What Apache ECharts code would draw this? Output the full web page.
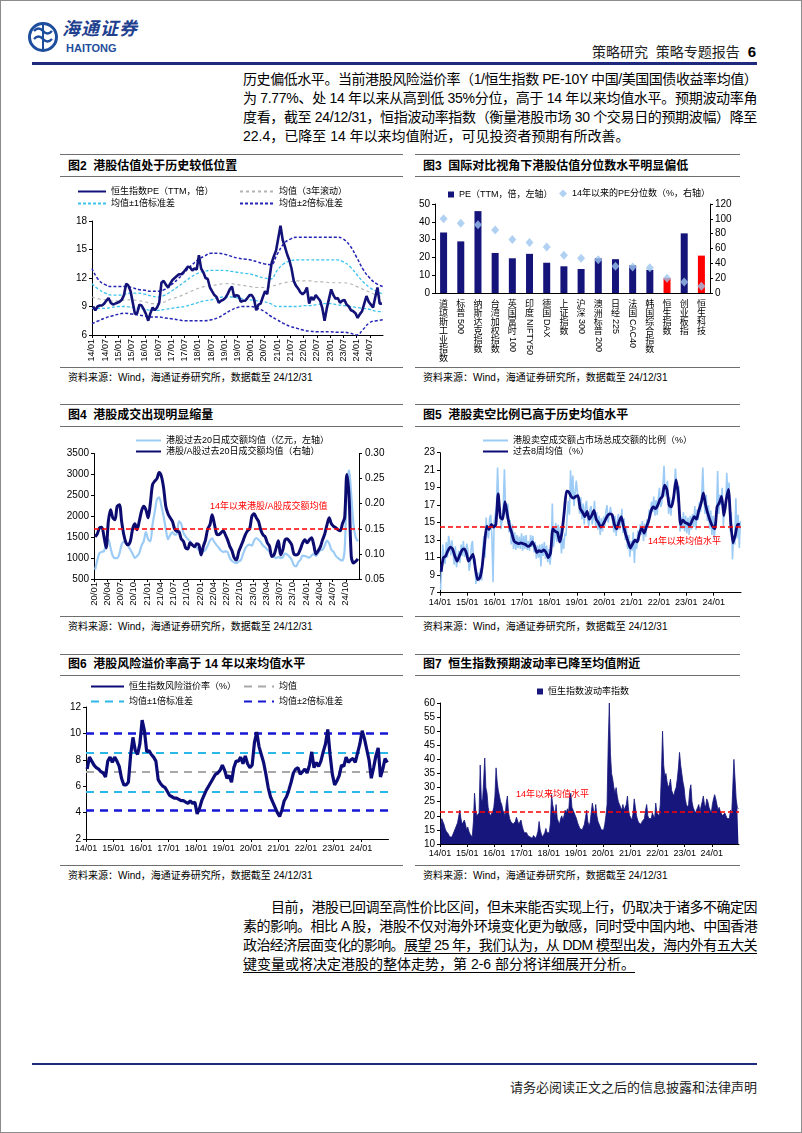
<!DOCTYPE html>
<html><head><meta charset="utf-8">
<script src="https://cdn.jsdelivr.net/npm/echarts@6/dist/echarts.min.js"></script>
<style>
html,body{margin:0;padding:0;background:#fff;}
#page{position:relative;width:802px;height:1133px;overflow:hidden;font-family:'Liberation Sans','Noto Sans CJK SC',sans-serif;color:#000;background:#fff;}
#frame{position:absolute;left:0;top:0;width:800px;height:1131px;border:1px solid #8c8c8c;}
.rule{position:absolute;height:0;border-top:1px solid #6e6e6e;}
.title{position:absolute;font-size:12px;font-weight:bold;line-height:14px;white-space:nowrap;}
.src{position:absolute;font-size:10px;line-height:12px;white-space:nowrap;}
.para{position:absolute;left:243px;width:514px;font-size:14px;}
.para .ln{height:19px;line-height:19px;white-space:nowrap;text-align:justify;text-align-last:justify;}
.para .ln.last{text-align:left;text-align-last:left;}
.chart{position:absolute;}
u{text-underline-offset:3px;}
</style>
</head><body>
<div id="page">
<div id="frame"></div>
<svg style="position:absolute;left:27px;top:18px" width="34" height="40" viewBox="0 0 34 40">
<circle cx="16" cy="19" r="13.5" fill="none" stroke="#1d4e9e" stroke-width="3"/>
<path d="M7 13 q4.5 -5 9 0 q4.5 5 9 0" fill="none" stroke="#1d4e9e" stroke-width="2.4"/>
<path d="M7 21 q4.5 -5 9 0 q4.5 5 9 0" fill="none" stroke="#1d4e9e" stroke-width="2.4"/>
<path d="M16 7 v25" fill="none" stroke="#1d4e9e" stroke-width="2"/>
</svg>
<div style="position:absolute;left:62px;top:18px;font-size:18px;line-height:22px;font-weight:bold;font-style:italic;color:#1f3f8f;letter-spacing:1px;white-space:nowrap;">海通证券</div>
<div style="position:absolute;left:66px;top:42px;font-size:11px;line-height:12px;font-weight:bold;color:#1f4e9c;font-family:'Liberation Sans',sans-serif;">HAITONG</div>
<div style="position:absolute;right:46px;top:41px;font-size:14px;color:#222;white-space:nowrap;">策略研究&nbsp;&nbsp;策略专题报告&nbsp;&nbsp;<b style="font-size:15px;color:#000">6</b></div>
<div style="position:absolute;left:32px;top:62px;width:725px;height:3px;background:#1f2a7f;"></div>

<div class="para" style="top:70px;">
<div class="ln">历史偏低水平。当前港股风险溢价率（1/恒生指数 PE-10Y 中国/美国国债收益率均值）</div>
<div class="ln">为 7.77%、处 14 年以来从高到低 35%分位，高于 14 年以来均值水平。预期波动率角</div>
<div class="ln">度看，截至 24/12/31，恒指波动率指数（衡量港股市场 30 个交易日的预期波幅）降至</div>
<div class="ln last">22.4，已降至 14 年以来均值附近，可见投资者预期有所改善。</div>
</div>

<div class="rule" style="left:60px;top:154px;width:343px;"></div>
<div class="rule" style="left:60px;top:176px;width:343px;"></div>
<div class="rule" style="left:60px;top:367px;width:343px;"></div>
<div class="title" style="left:68px;top:159px;">图2&nbsp;&nbsp;港股估值处于历史较低位置</div>
<div class="src" style="left:68px;top:372px;">资料来源：Wind，海通证券研究所，数据截至 24/12/31</div>

<div class="rule" style="left:415px;top:154px;width:325px;"></div>
<div class="rule" style="left:415px;top:176px;width:325px;"></div>
<div class="rule" style="left:415px;top:367px;width:325px;"></div>
<div class="title" style="left:423px;top:159px;">图3&nbsp;&nbsp;国际对比视角下港股估值分位数水平明显偏低</div>
<div class="src" style="left:423px;top:372px;">资料来源：Wind，海通证券研究所，数据截至 24/12/31</div>

<div class="rule" style="left:60px;top:404px;width:343px;"></div>
<div class="rule" style="left:60px;top:426px;width:343px;"></div>
<div class="rule" style="left:60px;top:616px;width:343px;"></div>
<div class="title" style="left:68px;top:408px;">图4&nbsp;&nbsp;港股成交出现明显缩量</div>
<div class="src" style="left:68px;top:621px;">资料来源：Wind，海通证券研究所，数据截至 24/12/31</div>

<div class="rule" style="left:415px;top:404px;width:325px;"></div>
<div class="rule" style="left:415px;top:426px;width:325px;"></div>
<div class="rule" style="left:415px;top:616px;width:325px;"></div>
<div class="title" style="left:423px;top:408px;">图5&nbsp;&nbsp;港股卖空比例已高于历史均值水平</div>
<div class="src" style="left:423px;top:621px;">资料来源：Wind，海通证券研究所，数据截至 24/12/31</div>

<div class="rule" style="left:60px;top:654px;width:343px;"></div>
<div class="rule" style="left:60px;top:675px;width:343px;"></div>
<div class="rule" style="left:60px;top:865px;width:343px;"></div>
<div class="title" style="left:68px;top:657px;">图6&nbsp;&nbsp;港股风险溢价率高于 14 年以来均值水平</div>
<div class="src" style="left:68px;top:870px;">资料来源：Wind，海通证券研究所，数据截至 24/12/31</div>

<div class="rule" style="left:415px;top:654px;width:325px;"></div>
<div class="rule" style="left:415px;top:675px;width:325px;"></div>
<div class="rule" style="left:415px;top:865px;width:325px;"></div>
<div class="title" style="left:423px;top:657px;">图7&nbsp;&nbsp;恒生指数预期波动率已降至均值附近</div>
<div class="src" style="left:423px;top:870px;">资料来源：Wind，海通证券研究所，数据截至 24/12/31</div>

<div id="c2" class="chart" style="left:60px;top:180px;width:343px;height:188px;"></div>
<div id="c3" class="chart" style="left:413px;top:180px;width:330px;height:188px;"></div>
<div id="c4" class="chart" style="left:60px;top:430px;width:343px;height:186px;"></div>
<div id="c5" class="chart" style="left:413px;top:430px;width:330px;height:186px;"></div>
<div id="c6" class="chart" style="left:60px;top:678px;width:343px;height:188px;"></div>
<div id="c7" class="chart" style="left:413px;top:678px;width:330px;height:188px;"></div>

<div class="para" style="top:898px;">
<div class="ln"><span style="display:inline-block;width:28px;"></span>目前，港股已回调至高性价比区间，但未来能否实现上行，仍取决于诸多不确定因</div>
<div class="ln">素的影响。相比 A 股，港股不仅对海外环境变化更为敏感，同时受中国内地、中国香港</div>
<div class="ln">政治经济层面变化的影响。<u>展望 25 年，我们认为，从 DDM 模型出发，海内外有五大关</u></div>
<div class="ln last"><u>键变量或将决定港股的整体走势，第 2-6 部分将详细展开分析。</u></div>
</div>

<div style="position:absolute;left:32px;top:1063px;width:725px;height:2px;background:#1f2a7f;"></div>
<div style="position:absolute;right:45px;top:1077px;font-size:13px;color:#222;white-space:nowrap;">请务必阅读正文之后的信息披露和法律声明</div>
</div>

<script>
// ---------- Chart 2: HSI PE (monthly, from 2014-01) ----------
const pe2 = [
 9.0, 8.6, 9.0, 9.1, 9.1, 9.3, 9.6, 9.9, 9.4, 9.2, 9.3, 9.4,
 9.5, 9.7, 10.2, 11.4, 11.2, 10.6, 9.4, 8.2, 8.3, 9.2, 9.1, 8.7,
 8.2, 7.5, 8.3, 8.9, 8.6, 8.9, 9.4, 11.5, 11.7, 11.3, 11.0, 11.4,
 11.8, 12.0, 12.2, 12.4, 12.4, 12.6, 12.9, 13.2, 13.1, 12.8, 13.0, 12.9,
 14.4, 13.0, 12.6, 12.0, 11.9, 11.0, 10.6, 10.2, 10.0, 9.4, 9.6, 9.7,
 9.9, 10.3, 10.8, 11.1, 10.0, 10.2, 10.1, 9.5, 9.6, 9.6, 9.9, 10.2,
 10.2, 9.8, 8.6, 9.2, 9.3, 10.0, 10.6, 10.3, 12.0, 13.6, 14.3, 14.9,
 16.2, 17.5, 16.0, 15.3, 14.5, 13.9, 13.0, 11.7, 11.2, 10.9, 10.5, 10.3,
 10.5, 11.0, 9.3, 10.0, 9.7, 10.2, 9.9, 9.6, 8.8, 7.5, 8.8, 9.8,
 10.8, 10.2, 9.8, 9.9, 9.4, 9.6, 9.7, 9.2, 9.0, 8.6, 8.5, 8.3,
 7.8, 8.2, 8.5, 9.3, 10.1, 9.5, 9.2, 8.9, 10.0, 11.0, 9.3, 9.3
];
// bands, quarterly from 2014-01 to 2025-01
const pe2Mean = [10.0,9.8,9.7,9.6,9.6,9.7,9.7,9.6,9.5,9.3,9.3,9.5,9.8,10.0,10.3,10.6,10.9,11.1,11.2,11.3,11.4,11.4,11.3,11.2,11.1,11.0,11.0,11.1,11.3,11.5,11.6,11.7,11.7,11.7,11.6,11.6,11.5,11.5,11.5,11.4,11.1,10.8,10.5,10.2,10.0];
const pe2Up1 = [11.4,10.8,10.4,10.2,10.2,10.3,10.4,10.4,10.3,10.1,10.0,10.2,10.6,11.1,11.6,12.1,12.5,12.7,12.8,12.8,12.8,12.7,12.6,12.5,12.4,12.2,12.0,11.9,12.8,13.5,13.8,13.9,13.9,13.9,13.9,13.9,13.9,13.9,13.7,13.2,12.4,11.6,11.0,10.6,10.3];
const pe2Lo1 = [8.8,8.8,8.8,8.9,9.0,9.0,8.9,8.8,8.7,8.6,8.6,8.7,8.8,8.9,9.0,9.2,9.4,9.6,9.7,9.9,10.0,10.0,9.9,9.8,9.7,9.6,9.5,9.3,9.0,9.0,9.0,9.0,9.1,9.1,9.2,9.3,9.3,9.2,9.1,9.0,8.9,8.8,8.7,8.5,8.45];
const pe2Up2 = [13.0,11.8,11.3,11.1,11.1,11.1,11.0,10.8,10.7,10.6,10.6,10.8,11.3,11.9,12.6,13.3,13.9,14.3,14.6,14.6,14.5,14.3,14.1,14.0,13.9,13.7,13.5,13.4,14.5,15.6,16.1,16.3,16.3,16.3,16.3,16.3,16.3,16.3,16.1,15.4,14.2,12.9,12.0,11.4,11.1];
const pe2Lo2 = [7.2,7.5,7.8,8.0,8.2,8.3,8.2,8.1,8.0,7.9,7.9,7.8,7.7,7.6,7.5,7.5,7.5,7.5,7.6,7.8,8.2,8.6,8.9,9.0,9.0,8.8,8.5,8.0,7.6,7.2,6.9,6.7,6.5,6.4,6.35,6.35,6.35,6.3,6.3,6.2,6.0,6.6,7.3,7.5,7.6];

// ---------- Chart 3 ----------
const cats3 = ['道琼斯工业指数','标普500','纳斯达克指数','台湾加权指数','英国富时100','印度NIFTY50','德国DAX','上证指数','沪深300','澳洲标普200','日经225','法国CAC40','韩国综合指数','恒生指数','创业板指','恒生科技'];
const pe3 = [34, 29, 46, 22.5, 19.5, 22, 17, 15, 13.5, 19.5, 19, 15.5, 13, 8.5, 33.5, 21];
const pct3 = [100, 94, 92, 85, 72, 68, 62, 51, 47, 45, 36, 35, 34, 20, 15, 9];
const red3 = ['恒生指数','恒生科技'];

// ---------- Chart 4 (semi-monthly from 2020-01) ----------
const hkTurnover = [
 720, 950, 1120, 1150, 1160, 1380, 1450, 1240, 1050, 1000, 1000, 1100,
 1320, 1390, 1350, 1280, 1200, 1100, 1000, 1050, 1120, 1300, 1400, 1620,
 1450, 1400, 1800, 2100, 2400, 2450, 2250, 2000, 1700, 1450, 1550, 1620,
 1560, 1580, 1880, 1820, 1600, 1520, 1450, 1400, 1320, 1280, 1250, 1200,
 1180, 1160, 1200, 1300, 1420, 1470, 1380, 1310, 1250, 1180, 1150, 1160,
 1140, 1000, 930, 900, 880, 920, 950, 1100, 1230, 1300, 1320, 1300,
 1420, 1480, 1440, 1380, 1300, 1260, 1200, 1150, 1050, 1030, 1000, 1030,
 1000, 1020, 1110, 1080, 1030, 960, 830, 800, 900, 960, 1060, 1050,
 1030, 1010, 1060, 1100, 1050, 1120, 1190, 1200, 1300, 1420, 1350, 1200,
 1150, 1050, 1000, 960, 940, 1200, 2700, 3100, 2500, 1800, 1500, 1400
];
const hkARatio = [
 0.134, 0.140, 0.152, 0.153, 0.135, 0.112, 0.165, 0.188, 0.172, 0.168, 0.195, 0.198,
 0.165, 0.138, 0.122, 0.118, 0.126, 0.150, 0.160, 0.148, 0.165, 0.185, 0.195, 0.188,
 0.172, 0.200, 0.238, 0.245, 0.250, 0.262, 0.255, 0.232, 0.195, 0.180, 0.172, 0.165,
 0.150, 0.145, 0.144, 0.130, 0.125, 0.112, 0.110, 0.122, 0.118, 0.114, 0.120, 0.118,
 0.098, 0.115, 0.128, 0.150, 0.158, 0.178, 0.160, 0.140, 0.138, 0.142, 0.146, 0.138,
 0.128, 0.115, 0.106, 0.092, 0.088, 0.104, 0.115, 0.126, 0.138, 0.146, 0.150, 0.175,
 0.180, 0.172, 0.165, 0.148, 0.138, 0.134, 0.122, 0.115, 0.095, 0.098, 0.112, 0.126,
 0.098, 0.108, 0.128, 0.130, 0.125, 0.118, 0.100, 0.098, 0.100, 0.110, 0.122, 0.128,
 0.122, 0.128, 0.132, 0.118, 0.100, 0.106, 0.114, 0.128, 0.140, 0.158, 0.172, 0.160,
 0.155, 0.152, 0.148, 0.146, 0.160, 0.172, 0.258, 0.215, 0.095, 0.082, 0.085, 0.090
];
const ratioMean4 = 1700;

// ---------- Chart 5 ----------
const shortRatio = [ // semi-monthly from 2014-01
 7.3,10.2,12.5,11.0,10.3,12.8,11.0,13.5,12.8,11.3,13.0,11.4,10.2,12.3,9.9,11.0,11.8,10.4,12.5,11.2,12.9,11.1,11.0,12.6,
 11.8,9.5,10.2,12.4,12.9,10.3,10.8,8.0,7.9,9.3,8.3,9.8,8.4,11.9,13.5,11.0,15.6,13.8,13.2,15.5,15.9,13.5,8.2,15.1,
 14.9,16.8,21.3,17.5,16.0,14.3,15.3,17.0,21.1,16.5,15.4,17.2,13.9,15.3,12.5,14.8,12.0,13.9,11.9,13.6,12.1,13.4,12.0,13.8,
 11.8,13.5,12.0,13.6,11.9,12.9,11.8,13.6,12.2,13.5,11.6,12.8,10.9,12.4,11.0,12.5,10.0,12.6,11.2,12.8,10.9,12.4,10.5,12.0,
 10.2,11.6,17.2,12.2,13.2,15.0,12.8,14.8,13.0,14.5,11.5,13.2,12.0,13.8,13.5,15.8,17.5,15.9,21.0,18.0,20.4,16.9,17.0,19.8,
 19.6,17.2,16.0,17.9,15.4,17.2,14.8,16.8,17.5,15.4,14.6,16.5,16.9,14.8,15.5,17.5,14.6,16.2,14.2,15.8,13.6,15.5,14.0,15.7,
 14.6,16.3,17.0,15.0,15.2,16.8,16.9,15.0,13.9,15.8,13.5,15.2,16.0,14.2,14.8,16.6,13.8,15.5,13.0,14.4,12.0,13.6,11.1,12.9,
 11.8,13.9,10.4,13.2,12.0,14.1,12.9,14.8,13.6,15.2,12.9,14.9,13.4,15.4,14.4,16.5,15.6,17.4,16.2,18.0,15.8,17.6,15.9,17.8,
 19.0,16.8,17.2,19.2,21.5,18.0,18.0,19.8,16.0,17.9,15.8,17.6,17.0,18.9,21.2,19.0,17.3,19.2,14.0,15.6,14.3,16.2,14.0,15.8,
 13.8,15.6,13.6,15.8,14.2,16.0,14.5,16.9,14.2,16.5,15.3,17.4,16.2,18.0,21.3,17.6,16.0,18.2,15.2,17.0,14.3,16.4,13.6,15.8,
 13.1,15.0,15.8,20.9,16.0,18.2,17.0,19.0,14.6,17.0,16.5,20.7,17.8,19.6,14.0,16.2,10.8,13.5,12.5,17.8,13.2,15.9,12.1,15.2
];
const shortMA8 = [ // monthly from 2014-01
 9.4, 11.0, 11.2, 11.8, 12.2, 12.0, 11.2, 10.6, 11.2, 11.8, 12.0, 11.6,
 10.6, 11.0, 11.4, 9.8, 8.5, 8.7, 10.0, 12.5, 14.6, 14.2, 14.8, 14.5,
 14.8, 18.3, 15.6, 15.4, 17.4, 16.0, 14.6, 13.8, 12.9, 12.7, 12.6, 12.7,
 12.6, 12.5, 12.3, 12.4, 12.8, 12.3, 11.6, 11.8, 11.7, 11.9, 11.6, 11.0,
 11.6, 14.3, 14.0, 13.9, 12.8, 13.9, 16.3, 18.6, 18.5, 18.0, 17.8, 18.0,
 18.1, 16.6, 16.2, 15.7, 16.3, 15.4, 15.8, 16.4, 15.4, 15.0, 14.5, 14.8,
 15.3, 15.8, 16.0, 15.9, 14.8, 14.3, 15.1, 15.7, 14.6, 13.6, 12.8, 12.1,
 12.6, 13.0, 12.8, 13.8, 14.4, 13.8, 14.5, 15.2, 16.3, 16.8, 16.6, 17.0,
 17.7, 18.0, 19.3, 18.8, 17.0, 16.8, 18.0, 19.9, 18.2, 14.8, 15.3, 15.0,
 14.9, 14.7, 15.2, 15.7, 15.4, 16.4, 17.2, 18.4, 17.0, 16.0, 15.2, 14.6,
 14.3, 16.8, 17.3, 18.0, 15.8, 17.6, 18.8, 15.0, 12.7, 13.6, 14.8, 14.8
];
const shortMean = 14.5;

// ---------- Chart 6 (monthly from 2014-01) ----------
const riskPrem = [
 7.3, 8.2, 7.9, 7.6, 7.4, 7.3, 7.1, 7.0, 6.7, 7.9, 8.2, 7.8,
 8.2, 7.9, 7.5, 6.6, 6.1, 6.1, 6.3, 8.4, 9.7, 8.7, 8.4, 9.2,
 11.0, 10.2, 8.6, 8.7, 8.4, 8.2, 7.9, 6.5, 6.2, 6.0, 5.9, 5.6,
 5.3, 5.2, 5.1, 5.1, 5.0, 4.9, 4.9, 4.8, 4.7, 4.9, 4.7, 4.8,
 3.9, 4.3, 4.9, 5.3, 5.7, 6.0, 6.3, 6.6, 6.9, 7.0, 7.2, 7.6,
 7.2, 6.6, 6.8, 6.3, 7.4, 7.9, 7.9, 8.2, 7.7, 8.3, 7.7, 7.4,
 7.6, 9.3, 10.1, 9.0, 8.4, 7.8, 6.9, 5.9, 5.2, 4.8, 4.4, 4.0,
 3.7, 4.2, 4.9, 5.2, 5.7, 6.3, 7.0, 7.3, 7.4, 6.9, 7.1, 7.3,
 7.0, 7.6, 8.6, 7.4, 7.8, 7.5, 7.9, 8.6, 9.2, 10.3, 8.4, 6.9,
 6.1, 6.4, 6.8, 7.6, 7.5, 8.2, 7.8, 8.0, 8.1, 7.8, 8.5, 9.2,
 10.2, 9.6, 8.8, 8.0, 6.6, 7.4, 8.3, 8.9, 6.7, 7.3, 8.1, 7.8
];
const rpMean = 7.07, rpUp1 = 8.53, rpLo1 = 5.61, rpUp2 = 9.99, rpLo2 = 4.15;

// ---------- Chart 7 (semi-monthly from 2014-01) ----------
const vhsi = [
 15.5,19.0,18.0,17.0,15.5,14.5,14.0,13.5,12.5,12.2,12.5,13.0,14.5,15.5,16.0,17.5,18.0,22.0,19.0,17.0,16.5,18.5,17.0,15.0,
 16.0,14.5,13.5,13.0,12.5,18.0,28.0,22.0,20.0,19.5,21.0,38.0,26.0,25.0,32.0,40.5,30.0,28.0,23.0,21.0,20.0,19.5,21.5,23.0,
 27.0,37.0,32.0,29.0,27.0,25.0,24.0,22.0,21.0,20.0,24.5,27.0,21.0,19.0,18.0,17.5,17.0,17.0,18.0,19.5,20.0,17.0,16.5,18.5,
 16.5,15.0,14.0,13.5,14.0,13.0,13.5,12.5,12.5,12.0,13.0,12.5,12.0,13.0,14.5,18.0,15.0,13.5,12.5,13.0,14.0,15.5,14.0,13.5,
 14.0,17.5,27.5,24.0,22.0,20.0,24.0,19.0,18.0,17.0,19.0,20.0,18.5,20.0,22.0,21.0,22.5,21.0,27.0,28.0,23.0,22.0,21.0,20.5,
 19.0,17.5,16.5,15.5,16.0,15.0,15.5,17.0,19.5,22.0,18.0,16.5,17.5,21.0,24.5,22.0,20.0,24.0,20.0,18.0,17.0,16.0,15.0,14.5,
 15.0,17.0,20.0,24.0,45.0,60.0,42.0,35.0,33.0,30.0,28.0,30.0,27.0,25.0,24.0,23.0,22.0,24.0,22.0,21.5,24.0,27.0,22.0,20.0,
 20.0,18.5,21.0,26.0,23.0,20.0,18.5,17.5,17.0,17.0,18.0,17.5,19.0,22.0,24.0,20.0,19.0,18.5,19.0,21.0,20.5,19.0,24.5,21.0,
 21.0,20.0,24.0,35.0,50.0,38.0,34.0,35.0,32.0,30.0,31.0,33.0,29.0,28.0,27.0,29.0,30.0,33.0,37.0,42.5,38.0,35.0,32.0,30.0,
 26.0,24.0,23.0,24.0,29.0,31.0,25.0,23.0,22.0,21.0,21.5,23.0,24.0,21.5,22.0,25.0,27.0,24.0,23.0,26.0,25.0,23.0,22.5,21.0,
 24.0,26.0,27.5,26.0,24.0,22.0,23.0,21.5,21.0,20.0,19.5,21.0,20.0,19.0,19.5,19.0,22.0,20.0,30.0,40.0,33.0,26.0,23.0,22.4
];
const vhsiMean = 21.3;

// ---------- helpers ----------
const FONT = "'Liberation Sans','Noto Sans CJK SC',sans-serif";
function ym(v){const mm=Math.round(v*12);return String(Math.floor(mm/12)).slice(2)+'/'+String(mm%12+1).padStart(2,'0');}
const monthly=(s,a)=>a.map((v,i)=>[s+(i+0.5)/12,v]);
const semi=(s,a)=>a.map((v,i)=>[s+(i+0.5)/24,v]);
const quarterly=(s,a)=>a.map((v,i)=>[s+i*0.25,v]);
const BLACK={color:'#000',width:1};
function timeAxis(min,max,interval,rotate,margin,fs){
  return {type:'value',min,max,interval,axisLine:{show:true,onZero:false,lineStyle:BLACK},
    axisTick:{show:true,length:3,lineStyle:BLACK},splitLine:{show:false},
    axisLabel:{color:'#000',fontSize:fs||9,fontFamily:FONT,rotate:rotate||0,margin:margin,showMaxLabel:false,
      formatter:v=>v>=max-1e-6?'':ym(v)}};
}
function valAxis(min,max,interval,extra){
  return Object.assign({type:'value',min,max,interval,axisLine:{show:true,lineStyle:BLACK},
    axisTick:{show:true,length:3,lineStyle:BLACK},splitLine:{show:false},
    axisLabel:{color:'#000',fontSize:10,fontFamily:FONT,margin:5,formatter:v=>String(v)}},extra||{});
}
function lg(name,left,top,w,h,hideSym,icon){
  const o={data:[name],left,top,itemWidth:w,itemHeight:h,itemGap:0,padding:0,selectedMode:false,
    textStyle:{fontSize:9,color:'#000',fontFamily:FONT}};
  if(hideSym)o.itemStyle={opacity:0};
  if(icon)o.icon=icon;
  return o;
}
const grid=(l,r,t,b)=>({left:l,right:r,top:t,bottom:b,containLabel:false,outerBoundsMode:'none'});
function mk(id,opt){const c=echarts.init(document.getElementById(id),null,{renderer:'canvas'});opt.animation=false;opt.textStyle={fontFamily:FONT};c.setOption(opt);}

// ---------- chart 2 ----------
const c2cyan={color:'#3CC3EE',width:1.3,type:[3,2]};
const c2blue={color:'#2424B4',width:1.5,type:[3,2]};
const c2gray={color:'#B4B4B4',width:1.2,type:[3,3]};
mk('c2',{
  grid:grid(32,20,41,33),
  legend:[lg('恒生指数PE（TTM，倍）',17,7,28,10,true),lg('均值（3年滚动）',179,7,34,10,true),
          lg('均值±1倍标准差',17,19,28,10,true),lg('均值±2倍标准差',179,19,34,10,true)],
  xAxis:timeAxis(2014,2025,0.5,90,4,9),
  yAxis:valAxis(6,18,3),
  series:[
    {name:'均值（3年滚动）',type:'line',data:quarterly(2014,pe2Mean),smooth:true,symbol:'none',lineStyle:c2gray,z:2},
    {name:'均值±1倍标准差',type:'line',data:quarterly(2014,pe2Up1),smooth:true,symbol:'none',lineStyle:c2cyan,z:2},
    {name:'均值±1倍标准差',type:'line',data:quarterly(2014,pe2Lo1),smooth:true,symbol:'none',lineStyle:c2cyan,z:2},
    {name:'均值±2倍标准差',type:'line',data:quarterly(2014,pe2Up2),smooth:true,symbol:'none',lineStyle:c2blue,z:2},
    {name:'均值±2倍标准差',type:'line',data:quarterly(2014,pe2Lo2),smooth:true,symbol:'none',lineStyle:c2blue,z:2},
    {name:'恒生指数PE（TTM，倍）',type:'line',data:monthly(2014,pe2),symbol:'none',lineStyle:{color:'#121278',width:2.6},z:5}
  ]
});

// ---------- chart 3 ----------
const cjk=v=>v.match(/^[^\x00-\x7F]*/)[0];
const LH3=9;
mk('c3',{
  grid:grid(22,33,24,75),
  legend:[lg('PE（TTM，倍，左轴）',35,10,6,6,false,'rect'),lg('14年以来的PE分位数（%，右轴）',146,9,8,8,false,'diamond')],
  xAxis:[
    {type:'category',data:cats3,axisLine:{show:true,lineStyle:BLACK},axisTick:{show:false},
     axisLabel:{interval:0,margin:7,fontSize:9,lineHeight:LH3,color:'#000',fontFamily:FONT,
       formatter:v=>cjk(v).split('').join('\n')}},
    {type:'category',data:cats3,position:'bottom',axisLine:{show:false},axisTick:{show:false},
     axisLabel:{interval:0,margin:7,rotate:-90,fontSize:9,color:'#000',fontFamily:FONT,
       formatter:v=>{const c=cjk(v);const l=v.slice(c.length);return l?('{p'+c.length+'|'+l+'}'):'';},
       rich:{p2:{fontSize:9,fontFamily:FONT,color:'#000',padding:[0,0,0,2*LH3+1]},
             p4:{fontSize:9,fontFamily:FONT,color:'#000',padding:[0,0,0,4*LH3+1]}}}}
  ],
  yAxis:[valAxis(0,50,10),valAxis(0,120,20,{position:'right'})],
  series:[
    {name:'PE（TTM，倍，左轴）',type:'bar',barWidth:7,data:pe3.map((v,i)=>red3.includes(cats3[i])?{value:v,itemStyle:{color:'#FF0000'}}:v),itemStyle:{color:'#14147A'}},
    {name:'14年以来的PE分位数（%，右轴）',type:'scatter',yAxisIndex:1,symbol:'diamond',symbolSize:[8,9],data:pct3,itemStyle:{color:'#9EC6EF'},z:5}
  ]
});

// ---------- chart 4 ----------
mk('c4',{
  grid:grid(34,44,23.5,37),
  legend:[lg('港股过去20日成交额均值（亿元，左轴）',75,6,25,10,true),lg('港股/A股过去20日成交额均值（右轴）',75,17,25,10,true)],
  xAxis:timeAxis(2020,2025,0.25,90,3,9.5),
  yAxis:[valAxis(500,3500,500),valAxis(0.05,0.30,0.05,{position:'right',axisLabel:{color:'#000',fontSize:10,fontFamily:FONT,margin:6,formatter:v=>v.toFixed(2)}})],
  series:[
    {name:'港股过去20日成交额均值（亿元，左轴）',type:'line',data:semi(2020,hkTurnover),symbol:'none',smooth:0.3,
     lineStyle:{color:'#9CCBF5',width:2.2},z:2,
     markLine:{silent:true,symbol:['none','none'],lineStyle:{color:'#FF0000',width:1.5,type:[5,3]},
       label:{show:true,position:'insideStartTop',distance:[116,18],formatter:'14年以来港股/A股成交额均值',color:'#FF0000',fontSize:9,fontFamily:FONT},
       data:[{yAxis:ratioMean4}]}},
    {name:'港股/A股过去20日成交额均值（右轴）',type:'line',yAxisIndex:1,data:semi(2020,hkARatio),symbol:'none',smooth:0.3,
     lineStyle:{color:'#0C0C70',width:3},z:4}
  ]
});

// ---------- chart 5 ----------
mk('c5',{
  grid:grid(27,2,22.7,23.3),
  legend:[lg('港股卖空成交额占市场总成交额的比例（%）',69,6,25,10,true),lg('过去8周均值（%）',69,17,25,10,true)],
  xAxis:timeAxis(2014,2025,1,0,5,9),
  yAxis:valAxis(7,23,2),
  series:[
    {name:'港股卖空成交额占市场总成交额的比例（%）',type:'line',data:semi(2014,shortRatio),symbol:'none',
     lineStyle:{color:'#9CCBF5',width:1.6},z:2,
     markLine:{silent:true,symbol:['none','none'],lineStyle:{color:'#FF0000',width:1.5,type:[5,3]},
       label:{show:true,position:'insideEndBottom',distance:[20,10],formatter:'14年以来均值水平',color:'#FF0000',fontSize:9,fontFamily:FONT},
       data:[{yAxis:shortMean}]}},
    {name:'过去8周均值（%）',type:'line',data:monthly(2014,shortMA8),symbol:'none',smooth:0.2,
     lineStyle:{color:'#0C0C78',width:2.8},z:4}
  ]
});

// ---------- chart 6 ----------
const g6={color:'#A8A8A8',width:2,type:[8,6]};
const cy6={color:'#2BB7E8',width:2,type:[8,6]};
const bl6={color:'#1616D6',width:2.6,type:[8,6]};
const refLine=(name,st,vals)=>({name,type:'line',data:[],symbol:'none',lineStyle:st,z:1,
  markLine:{silent:true,symbol:['none','none'],label:{show:false},lineStyle:st,data:vals.map(v=>({yAxis:v}))}});
mk('c6',{
  grid:grid(26,14.5,29,27),
  legend:[lg('恒生指数风险溢价率（%）',30,4,33,10,true),lg('均值',183,4,30,10,true),
          lg('均值±1倍标准差',30,19,33,10,true),lg('均值±2倍标准差',183,19,30,10,true)],
  xAxis:timeAxis(2014,2025,1,0,5,9),
  yAxis:valAxis(2,12,2),
  series:[
    refLine('均值',g6,[rpMean]),
    refLine('均值±1倍标准差',cy6,[rpUp1,rpLo1]),
    refLine('均值±2倍标准差',bl6,[rpUp2,rpLo2]),
    {name:'恒生指数风险溢价率（%）',type:'line',data:monthly(2014,riskPrem),symbol:'none',
     lineStyle:{color:'#0C0C78',width:3.2},z:5}
  ]
});

// ---------- chart 7 ----------
mk('c7',{
  grid:grid(27,4,25,22),
  legend:[lg('恒生指数波动率指数',124,9,6,6,false,'rect')],
  xAxis:timeAxis(2014,2025,1,0,5,9),
  yAxis:valAxis(10,60,5),
  series:[
    {name:'恒生指数波动率指数',type:'line',data:semi(2014,vhsi),symbol:'none',
     lineStyle:{color:'#16167C',width:0.8},itemStyle:{color:'#16167C'},areaStyle:{color:'#16167C',opacity:1,origin:'start'},z:2,
     markLine:{silent:true,symbol:['none','none'],lineStyle:{color:'#FF0000',width:1.5,type:[5,3]},z:10,
       label:{show:true,position:'insideStartTop',distance:[76,13],formatter:'14年以来均值水平',color:'#FF0000',fontSize:9,fontFamily:FONT},
       data:[{yAxis:vhsiMean}]}}
  ]
});

document.querySelectorAll('.para .ln').forEach(el=>{
  const w=el.clientWidth;
  if(el.scrollWidth>w+0.5){const n=el.textContent.length;el.style.letterSpacing=(-(el.scrollWidth-w)/n)+'px';}
});
</script>
</body></html>
